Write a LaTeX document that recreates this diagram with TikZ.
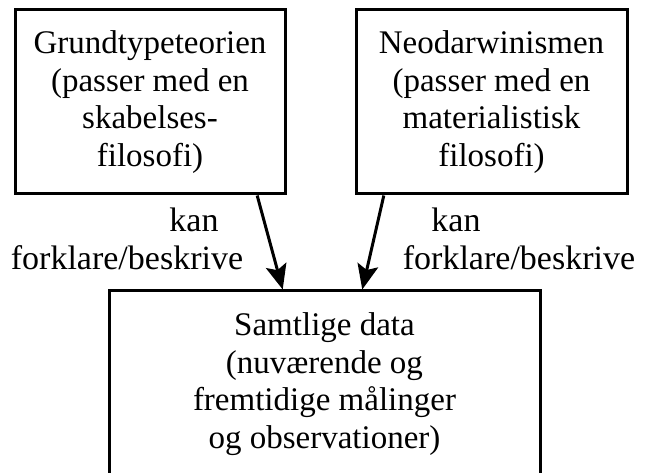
\documentclass[tikz,border=0pt]{standalone}
\usepackage{fontspec}
\setmainfont{Liberation Serif}
\usetikzlibrary{arrows.meta,calc}
\begin{document}
\begin{tikzpicture}[x=1pt,y=-1pt,
  box/.style={draw=black,line width=3pt,rectangle,align=center,inner sep=0pt,
    font=\fontsize{33}{37.5}\selectfont},
  arr/.style={line width=3pt,-{Stealth[length=25pt,width=21pt,inset=5pt]}},
  lbl/.style={anchor=base,inner sep=0pt,font=\fontsize{34}{37.5}\selectfont}]
\useasboundingbox (0,0) rectangle (646,473);
\clip (0,0) rectangle (646,473);
\node[box,minimum width=270pt,minimum height=184pt] (A) at (150,102)
  {Grundtypeteorien\\(passer med en\\skabelses-\\filosofi)};
\node[box,minimum width=271pt,minimum height=184pt] (B) at (491.5,102)
  {Neodarwinismen\\(passer med en\\materialistisk\\filosofi)};
\node[box,minimum width=431pt,minimum height=186pt] (C) at (324.5,384)
  {Samtlige data\\(nuværende og\\fremtidige målinger\\og observationer)};
\draw[arr] ($(A.south west)!0.8926!(A.south east)$) -- ($(C.north west)!0.4037!(C.north east)$);
\draw[arr] ($(B.south west)!0.107!(B.south east)$) -- ($(C.north west)!0.587!(C.north east)$);
\node[lbl] (k1) at (194,232) {kan};
\node[lbl] (f1) at (127,270) {forklare/beskrive};
\node[lbl] (k2) at (456,232) {kan};
\node[lbl] (f2) at (519,270) {forklare/beskrive};
\end{tikzpicture}
\end{document}
